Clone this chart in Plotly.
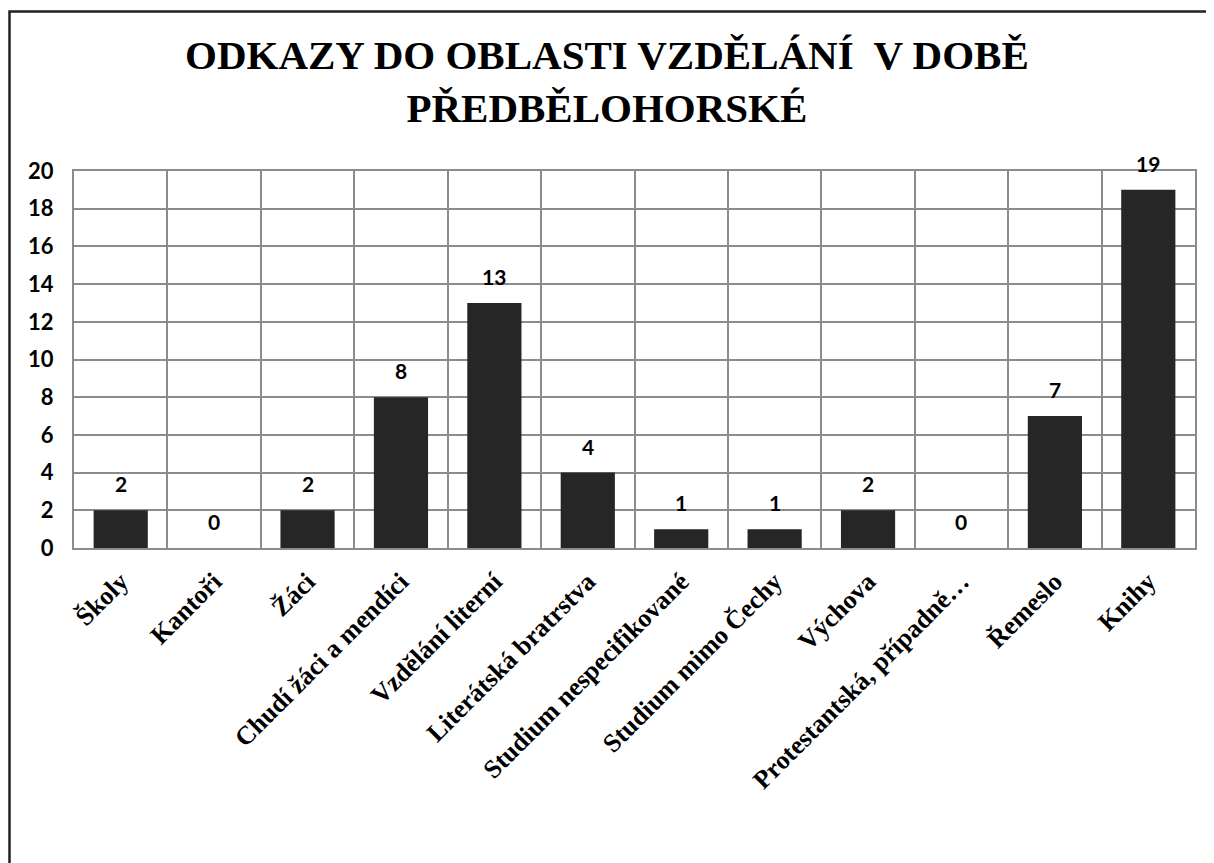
import plotly.graph_objects as go

categories = ["Školy", "Kantoři", "Žáci", "Chudí žáci a mendíci", "Vzdělání literní",
              "Literátská bratrstva", "Studium nespecifikované", "Studium mimo Čechy",
              "Výchova", "Protestantská, případně…", "Řemeslo", "Knihy"]
values = [2, 0, 2, 8, 13, 4, 1, 1, 2, 0, 7, 19]
title_text = "ODKAZY DO OBLASTI VZDĚLÁNÍ  V DOBĚ<br>PŘEDBĚLOHORSKÉ"

OFF = 8  # page body margin offset
W, H = 1214 - OFF, 863 - OFF
ml, mt = 74 - OFF, 171 - OFF
mr = W - (1195 - OFF)
mb = H - (548 - OFF)
pw, ph = W - ml - mr, H - mt - mb

fig = go.Figure()
fig.add_trace(go.Bar(
    x=categories, y=values,
    marker=dict(color="#262626", line=dict(width=0)),
    width=0.58,
))

for c, v in zip(categories, values):
    fig.add_annotation(x=c, y=v, text=str(v), showarrow=False,
                       yanchor="bottom", yshift=12,
                       font=dict(family="Lato", size=21, color="#000000", weight="bold"))

# title
fig.add_annotation(xref="paper", yref="paper", x=(607 - OFF - ml) / pw,
                   y=1 + (mt - 22) / ph, xanchor="center", yanchor="top",
                   text=title_text, showarrow=False, align="center",
                   font=dict(family="Liberation Serif", size=41, color="#000000", weight="bold"))

# outer border: only top and left edges are visible in the frame
bx0 = (1.5 - ml) / pw
by1 = 1 + (mt - 3.5) / ph
bx1 = 1 + (mr + 30) / pw
by0 = -(mb + 30) / ph
fig.add_shape(type="path", xref="paper", yref="paper",
              path=f"M {bx0},{by0} L {bx0},{by1} L {bx1},{by1}",
              line=dict(color="#222222", width=2.5), layer="below")

fig.update_layout(
    width=W, height=H,
    margin=dict(l=ml, r=mr, t=mt, b=mb, autoexpand=False),
    paper_bgcolor="white", plot_bgcolor="white",
    showlegend=False,
    bargap=0.42,
    xaxis=dict(
        type="category", tickson="boundaries", showgrid=True,
        gridcolor="#8c8c8c", gridwidth=2,
        showline=True, linecolor="#8c8c8c", linewidth=2, mirror=True,
        ticks="", tickangle=-45, ticklabelstandoff=6,
        tickfont=dict(family="Liberation Serif", size=26, color="#000000", weight="bold"),
    ),
    yaxis=dict(
        range=[0, 20], dtick=2, tick0=0, showgrid=True,
        gridcolor="#8c8c8c", gridwidth=2, zeroline=False,
        showline=True, linecolor="#8c8c8c", linewidth=2, mirror=True,
        ticks="", ticklabelstandoff=14,
        tickfont=dict(family="Lato", size=22, color="#000000", weight="bold"),
    ),
)

fig.write_html("out.html")
